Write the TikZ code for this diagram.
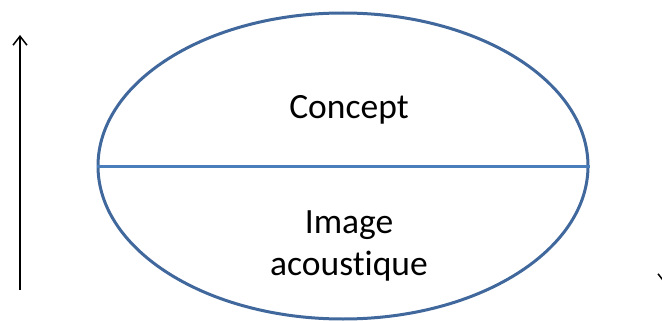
\documentclass[tikz,border=0pt]{standalone}
\usepackage{fontspec}
\setmainfont{Carlito}[RawFeature=-liga]
\usepackage{tikz}
\usetikzlibrary{positioning}
\usetikzlibrary{shapes.geometric}
\usetikzlibrary{arrows.meta}
\definecolor{outline}{RGB}{64,104,156}
\definecolor{divider}{RGB}{74,126,187}
\tikzstyle{sign}=[ellipse, draw=outline, line width=3pt, minimum width=490pt, minimum height=306pt, inner sep=0pt]
\tikzstyle{label}=[font=\fontsize{35.5}{42}\selectfont, align=center, inner sep=0pt]
\tikzstyle{arrow}=[-{Straight Barb[length=9pt,width=14pt]}, line width=1.5pt]

\begin{document}
\begin{tikzpicture}[x=1pt, y=-1pt]
      \useasboundingbox (0,0) rectangle (662,321);

      \node [sign] (sign) at (343,166) {};
      \draw [divider, line width=3pt] (sign.west) -- (sign.east);

      \node [label, anchor=base] (concept) at (349,118) {Concept};
      \node [label] (image) at (349,246) {Image\\acoustique};

      \coordinate (low) at (20,290);
      \coordinate (high) at (20,35);
      \draw [arrow] (low) -- (high);

      \coordinate (rtop) at (665,35);
      \coordinate (rlow) at (665,284);
      \draw [arrow] (rtop) -- (rlow);
    \end{tikzpicture}
\end{document}
